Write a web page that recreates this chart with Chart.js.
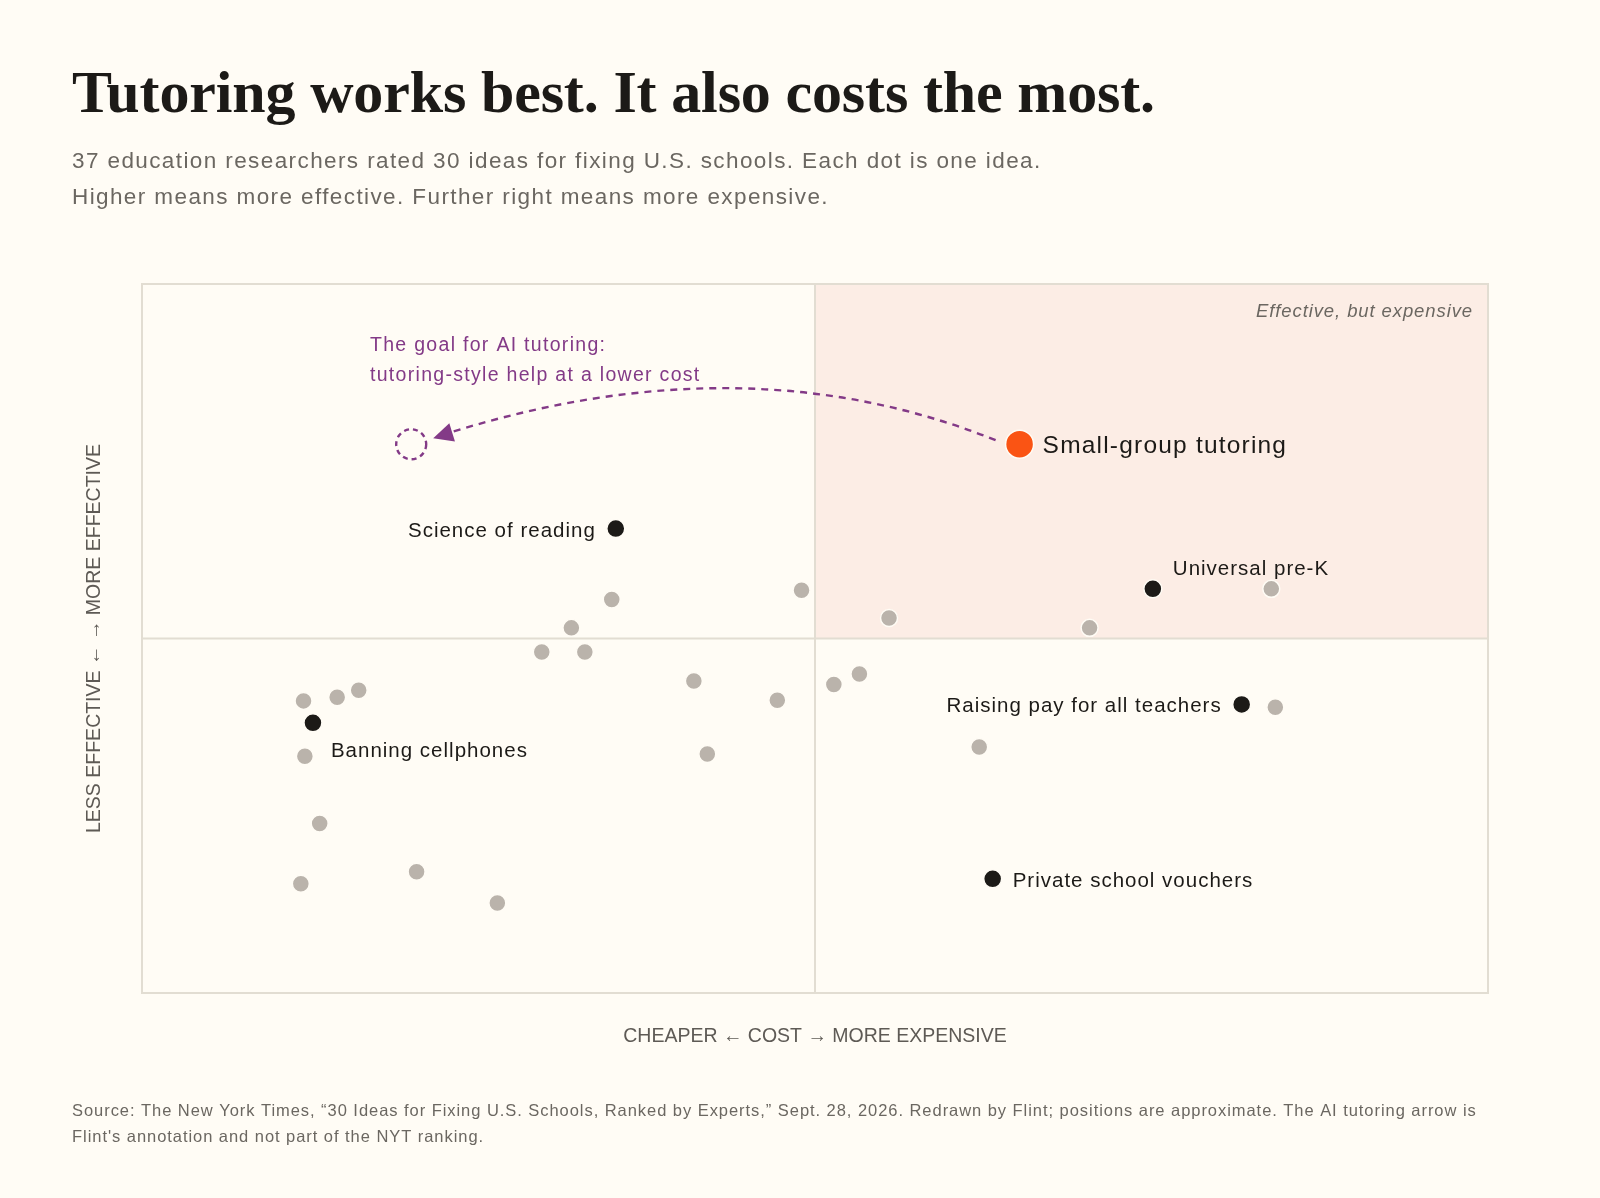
<!DOCTYPE html>
<html><head><meta charset="utf-8">
<script src="https://cdn.jsdelivr.net/npm/chart.js@4"></script>
<style>html,body{margin:0;padding:0;background:#fffcf5}</style>
</head><body>
<canvas id="c" width="1600" height="1198"></canvas>
<script>
const grayX=[49.0,55.5,70.4,83.9,34.9,31.9,29.7,32.9,41.0,47.2,51.4,53.3,84.2,62.2,42.0,12.0,14.5,16.1,12.1,13.2,11.8,20.4,26.4];
const grayY=[56.8,52.9,51.5,57.0,55.5,51.5,48.1,48.1,44.0,41.3,43.5,45.0,40.3,34.7,33.7,41.2,41.7,42.7,33.4,23.9,15.4,17.1,12.7];
const namedLabels=["Science of reading","Universal pre-K","Raising pay for all teachers","Banning cellphones","Private school vouchers"];
const namedX=[35.2,75.1,81.7,12.7,63.2];
const namedY=[65.5,57.0,40.7,38.1,16.1];
const tutorLabel="Small-group tutoring";
const tutorX=[65.2], tutorY=[77.4];
const goalX=[20.0], goalY=[77.4];
const mid=50;

const SANS='"Liberation Sans", Arial, sans-serif';
const toPts=(xs,ys)=>xs.map((x,i)=>({x,y:ys[i]}));

const deco={
 id:'deco',
 beforeDatasetsDraw(ch){
  const c=ch.ctx,{left,right,top,bottom}=ch.chartArea,x=ch.scales.x,y=ch.scales.y;
  const mx=x.getPixelForValue(mid),my=y.getPixelForValue(mid);
  c.save();
  c.fillStyle='#fcede5';c.fillRect(mx,top,right-mx,my-top);
  c.strokeStyle='#e2ddd2';c.lineWidth=2;
  c.strokeRect(left,top,right-left,bottom-top);
  c.beginPath();c.moveTo(mx,top);c.lineTo(mx,bottom);c.moveTo(left,my);c.lineTo(right,my);c.stroke();
  const sx=x.getPixelForValue(tutorX[0])-24,sy=y.getPixelForValue(tutorY[0])-4;
  const ex=x.getPixelForValue(goalX[0])+26,ey=y.getPixelForValue(goalY[0])-9;
  const cx=(sx+ex)/2+30,cy=sy-100;
  c.strokeStyle='#833a87';c.lineWidth=2.4;c.setLineDash([7,6]);
  c.beginPath();c.moveTo(sx,sy);c.quadraticCurveTo(cx,cy,ex+14,ey-3);c.stroke();
  c.setLineDash([]);
  const ang=Math.atan2(ey-cy,ex-cx);
  c.fillStyle='#833a87';c.beginPath();
  c.moveTo(ex-4,ey+3);
  c.lineTo(ex-4+22*Math.cos(ang+Math.PI-0.45),ey+3+22*Math.sin(ang+Math.PI-0.45));
  c.lineTo(ex-4+22*Math.cos(ang+Math.PI+0.45),ey+3+22*Math.sin(ang+Math.PI+0.45));
  c.closePath();c.fill();
  c.setLineDash([5,4]);c.lineWidth=2.4;
  c.beginPath();c.arc(x.getPixelForValue(goalX[0]),y.getPixelForValue(goalY[0]),15,0,Math.PI*2);c.stroke();
  c.setLineDash([]);
  c.restore();
 },
 afterDatasetsDraw(ch){
  const c=ch.ctx,x=ch.scales.x,y=ch.scales.y,{right}=ch.chartArea;
  const ls=v=>{c.letterSpacing=v+'px';};
  c.save();c.textBaseline='alphabetic';
  ls(-0.15);
  c.fillStyle='#1c1a17';c.font='bold 60px "Liberation Serif", serif';c.textAlign='left';
  c.fillText('Tutoring works best. It also costs the most.',72,112);
  ls(1.4);c.fillStyle='#6b6761';c.font='22.5px '+SANS;
  c.fillText('37 education researchers rated 30 ideas for fixing U.S. schools. Each dot is one idea.',72,168);
  c.fillText('Higher means more effective. Further right means more expensive.',72,204);
  ls(0.9);c.font='italic 18.5px '+SANS;c.textAlign='right';
  c.fillText('Effective, but expensive',right-15,317);
  ls(1.3);c.textAlign='left';c.fillStyle='#833a87';c.font='19.5px '+SANS;
  c.fillText('The goal for AI tutoring:',370,351);
  c.fillText('tutoring-style help at a lower cost',370,381);
  ls(1.2);c.fillStyle='#1c1a17';c.font='24.5px '+SANS;
  c.fillText(tutorLabel,x.getPixelForValue(tutorX[0])+23,y.getPixelForValue(tutorY[0])+9);
  c.font='20.5px '+SANS;ls(1.0);
  const off=[[-20,8,'right'],[20,-14,'left'],[-20,8,'right'],[18,34,'left'],[20,8,'left']];
  namedLabels.forEach((t,i)=>{c.textAlign=off[i][2];
   c.fillText(t,x.getPixelForValue(namedX[i])+off[i][0],y.getPixelForValue(namedY[i])+off[i][1]);});
  ls(0);c.fillStyle='#5e5a55';c.font='19.5px '+SANS;c.textAlign='center';
  c.fillText('CHEAPER \u2190 COST \u2192 MORE EXPENSIVE',x.getPixelForValue(mid),1042);
  c.save();c.translate(100,y.getPixelForValue(mid));c.rotate(-Math.PI/2);
  c.fillText('LESS EFFECTIVE \u2190 \u2192 MORE EFFECTIVE',0,0);c.restore();
  ls(0.95);c.textAlign='left';c.fillStyle='#6b6761';c.font='16.5px '+SANS;
  c.fillText('Source: The New York Times, \u201c30 Ideas for Fixing U.S. Schools, Ranked by Experts,\u201d Sept. 28, 2026. Redrawn by Flint; positions are approximate. The AI tutoring arrow is',72,1116);
  c.fillText("Flint's annotation and not part of the NYT ranking.",72,1142);
  c.restore();
 }
};

new Chart(document.getElementById('c'),{
 type:'scatter',
 data:{datasets:[
  {data:toPts(grayX,grayY),backgroundColor:'#bab3ab',borderColor:'#fffcf5',borderWidth:1.5,pointRadius:8.5},
  {data:toPts(namedX,namedY),backgroundColor:'#1c1a17',borderColor:'#fffcf5',borderWidth:1.5,pointRadius:9},
  {data:toPts(tutorX,tutorY),backgroundColor:'#fa5414',borderColor:'#fffcf5',borderWidth:1.5,pointRadius:14}
 ]},
 options:{responsive:false,animation:false,devicePixelRatio:1,
  layout:{padding:{left:142,right:112,top:284,bottom:205}},
  plugins:{legend:{display:false},tooltip:{enabled:false}},
  scales:{x:{type:'linear',min:0,max:100,display:false},y:{type:'linear',min:0,max:100,display:false}}},
 plugins:[deco,{id:'bg',beforeDraw(ch){ch.ctx.save();ch.ctx.fillStyle='#fffcf5';ch.ctx.fillRect(0,0,ch.width,ch.height);ch.ctx.restore();}}]
});
</script></body></html>
